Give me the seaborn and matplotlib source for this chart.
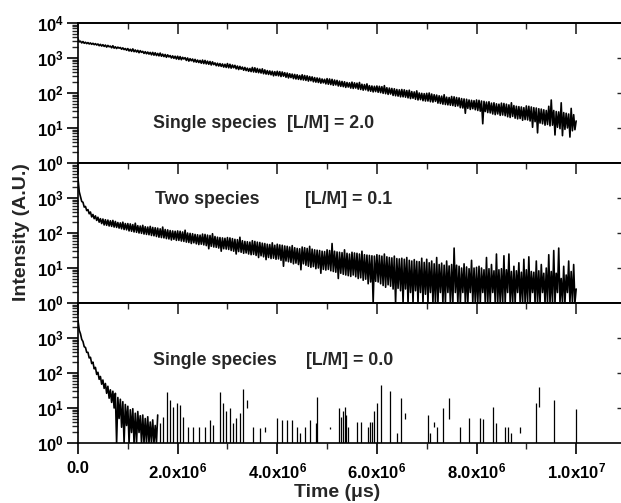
import numpy as np
import matplotlib
matplotlib.use('Agg')
import matplotlib.pyplot as plt
import seaborn as sns
from matplotlib.ticker import MultipleLocator, LogLocator, NullLocator, NullFormatter, FuncFormatter, FixedLocator

# channel width of the decay traces (us)
dt_chan = 2.5e4

# log10(intensity), in channel order (20 channels per row = 0.5e6 us)
top_log = [
    3.55, 3.46, 3.48, 3.43, 3.47, 3.42, 3.45, 3.41, 3.44, 3.40, 3.43, 3.39, 3.42, 3.38, 3.41, 3.37, 3.40, 3.35, 3.39, 3.34,
    3.38, 3.33, 3.37, 3.31, 3.36, 3.32, 3.34, 3.29, 3.35, 3.28, 3.32, 3.27, 3.31, 3.28, 3.30, 3.25, 3.29, 3.24, 3.27, 3.22,
    3.27, 3.20, 3.25, 3.19, 3.26, 3.18, 3.23, 3.17, 3.22, 3.15, 3.21, 3.16, 3.19, 3.13, 3.18, 3.12, 3.17, 3.11, 3.16, 3.09,
    3.16, 3.08, 3.15, 3.07, 3.13, 3.06, 3.14, 3.05, 3.11, 3.04, 3.10, 3.02, 3.09, 3.03, 3.07, 3.00, 3.06, 2.99, 3.05, 2.97,
    3.05, 2.96, 3.04, 2.95, 3.02, 2.97, 3.01, 2.93, 3.00, 2.91, 2.98, 2.92, 2.97, 2.89, 2.96, 2.88, 2.94, 2.87, 2.93, 2.85,
    2.94, 2.84, 2.93, 2.83, 2.91, 2.82, 2.90, 2.80, 2.89, 2.81, 2.86, 2.78, 2.85, 2.77, 2.84, 2.76, 2.83, 2.74, 2.82, 2.73,
    2.84, 2.72, 2.82, 2.71, 2.80, 2.72, 2.79, 2.69, 2.77, 2.67, 2.76, 2.68, 2.74, 2.65, 2.73, 2.64, 2.71, 2.62, 2.70, 2.61,
    2.73, 2.60, 2.72, 2.59, 2.70, 2.58, 2.68, 2.57, 2.69, 2.55, 2.66, 2.54, 2.64, 2.53, 2.63, 2.52, 2.62, 2.49, 2.61, 2.50,
    2.62, 2.49, 2.61, 2.47, 2.60, 2.48, 2.58, 2.45, 2.57, 2.43, 2.55, 2.44, 2.54, 2.41, 2.53, 2.40, 2.52, 2.39, 2.50, 2.38,
    2.52, 2.37, 2.50, 2.36, 2.49, 2.34, 2.47, 2.35, 2.46, 2.32, 2.44, 2.31, 2.43, 2.30, 2.42, 2.28, 2.40, 2.29, 2.39, 2.26,
    2.41, 2.25, 2.40, 2.24, 2.39, 2.22, 2.37, 2.23, 2.36, 2.20, 2.34, 2.19, 2.33, 2.18, 2.32, 2.16, 2.30, 2.17, 2.29, 2.14,
    2.31, 2.13, 2.29, 2.14, 2.28, 2.11, 2.30, 2.10, 2.25, 2.08, 2.24, 2.09, 2.26, 2.06, 2.21, 2.05, 2.20, 2.03, 2.19, 2.04,
    2.20, 2.02, 2.19, 2.01, 2.18, 1.99, 2.21, 1.98, 2.15, 1.96, 2.14, 1.97, 2.13, 1.93, 2.12, 1.92, 2.10, 1.91, 2.09, 1.89,
    2.10, 1.89, 2.09, 1.88, 2.07, 1.86, 2.08, 1.84, 2.04, 1.85, 2.03, 1.82, 2.06, 1.80, 2.00, 1.81, 1.99, 1.78, 1.98, 1.77,
    1.99, 1.77, 2.00, 1.75, 1.97, 1.74, 1.95, 1.76, 1.94, 1.71, 1.92, 1.70, 1.91, 1.68, 1.95, 1.67, 1.88, 1.66, 1.87, 1.65,
    1.90, 1.64, 1.89, 1.62, 1.87, 1.63, 1.86, 1.58, 1.84, 1.57, 1.83, 1.42, 1.82, 1.56, 1.80, 1.53, 1.79, 1.55, 1.78, 1.52,
    1.80, 1.50, 1.79, 1.48, 1.77, 1.12, 1.76, 1.47, 1.74, 1.44, 1.75, 1.43, 1.71, 1.40, 1.72, 1.38, 1.69, 1.40, 1.68, 1.36,
    1.71, 1.37, 1.70, 1.35, 1.68, 1.32, 1.66, 1.30, 1.72, 1.33, 1.64, 1.28, 1.62, 1.26, 1.61, 1.27, 1.60, 1.22, 1.58, 1.24,
    1.63, 1.23, 1.62, 1.20, 1.60, 1.02, 1.58, 1.18, 1.57, 0.86, 1.55, 1.14, 1.54, 1.12, 1.52, 1.08, 1.50, 1.10, 1.62, 1.06,
    1.80, 1.08, 1.50, 0.80, 1.47, 1.02, 1.46, 0.98, 1.72, 0.78, 1.44, 0.96, 1.42, 1.00, 1.40, 0.74, 1.56, 0.92, 1.38, 0.95,
    1.20,
]

mid_log = [
    3.55, 3.18, 3.04, 2.90, 2.88, 2.74, 2.76, 2.64, 2.67, 2.55, 2.60, 2.46, 2.53, 2.41, 2.49, 2.36, 2.45, 2.31, 2.41, 2.27,
    2.40, 2.23, 2.38, 2.22, 2.37, 2.20, 2.35, 2.19, 2.36, 2.17, 2.33, 2.16, 2.30, 2.14, 2.29, 2.12, 2.31, 2.10, 2.27, 2.09,
    2.27, 2.06, 2.26, 2.05, 2.24, 2.03, 2.28, 2.02, 2.21, 2.00, 2.20, 1.99, 2.22, 1.97, 2.18, 1.96, 2.17, 1.95, 2.19, 1.93,
    2.16, 1.92, 2.15, 1.90, 2.14, 1.88, 2.12, 1.87, 2.17, 1.86, 2.10, 1.84, 2.09, 1.83, 2.07, 1.80, 2.06, 1.82, 2.05, 1.79,
    2.06, 1.79, 2.05, 1.77, 2.03, 1.76, 2.08, 1.74, 2.00, 1.73, 1.99, 1.70, 1.98, 1.72, 1.96, 1.69, 1.95, 1.67, 1.94, 1.68,
    1.97, 1.66, 1.96, 1.64, 1.94, 1.55, 1.93, 1.62, 1.98, 1.60, 1.90, 1.59, 1.88, 1.57, 1.87, 1.48, 1.86, 1.55, 1.85, 1.54,
    1.87, 1.53, 1.86, 1.50, 1.84, 1.48, 1.82, 1.40, 1.81, 1.47, 1.88, 1.45, 1.78, 1.42, 1.76, 1.43, 1.75, 1.40, 1.74, 1.38,
    1.78, 1.39, 1.76, 1.36, 1.74, 1.30, 1.73, 1.35, 1.71, 1.32, 1.70, 1.24, 1.68, 1.30, 1.67, 1.27, 1.72, 1.28, 1.65, 1.25,
    1.68, 1.26, 1.66, 1.22, 1.65, 1.05, 1.63, 1.20, 1.62, 1.18, 1.60, 1.16, 1.64, 1.12, 1.58, 1.14, 1.56, 1.10, 1.55, 0.95,
    1.60, 1.12, 1.58, 1.08, 1.56, 1.05, 1.62, 1.02, 1.54, 1.04, 1.52, 0.98, 1.51, 1.00, 1.50, 0.85, 1.48, 0.96, 1.47, 0.94,
    1.52, 0.96, 1.50, 0.92, 1.70, 0.90, 1.48, 0.88, 1.46, 0.70, 1.45, 0.85, 1.44, 0.82, 1.52, 0.80, 1.42, 0.78, 1.40, 0.76,
    1.45, 0.80, 1.43, 0.75, 1.42, 0.70, 1.40, 0.72, 1.48, 0.65, 1.38, 0.68, 1.37, 0.55, 1.36, 0.60, 1.35, 0.00, 1.34, 0.62,
    1.38, 0.60, 1.36, 0.55, 1.34, 0.50, 1.40, 0.45, 1.32, 0.52, 1.30, 0.48, 1.29, 0.40, 1.34, 0.00, 1.27, 0.42, 1.26, 0.35,
    1.28, 0.00, 1.25, 0.40, 1.30, 0.00, 1.22, 0.30, 1.20, 0.00, 1.24, 0.35, 1.19, 0.00, 1.18, 0.30, 1.28, 0.00, 1.16, 0.25,
    1.25, 0.00, 1.15, 0.30, 1.20, 0.00, 1.12, 0.00, 1.30, 0.00, 1.10, 0.30, 1.14, 0.00, 1.08, 0.00, 1.20, 0.30, 1.06, 0.00,
    1.10, 0.00, 1.57, 0.30, 1.08, 0.00, 1.05, 0.00, 1.00, 0.30, 1.12, 0.00, 1.03, 0.00, 0.98, 0.30, 1.22, 0.00, 1.00, 0.00,
    1.02, 0.00, 1.05, 0.00, 1.00, 0.30, 0.95, 0.00, 1.30, 0.00, 0.98, 0.00, 1.10, 0.30, 0.92, 0.00, 1.40, 0.00, 0.95, 0.00,
    0.98, 0.00, 1.35, 0.00, 0.95, 0.30, 1.40, 0.00, 0.90, 0.00, 1.05, 0.00, 0.92, 0.30, 1.15, 0.00, 0.88, 0.00, 1.25, 0.00,
    0.95, 0.00, 1.32, 0.00, 0.90, 0.30, 0.88, 0.00, 1.20, 0.00, 0.92, 0.00, 1.10, 0.30, 0.85, 0.00, 1.00, 0.00, 1.38, 0.00,
    0.90, 0.00, 1.50, 0.00, 0.85, 0.30, 1.57, 0.00, 0.70, 0.00, 1.05, 0.00, 0.80, 0.30, 1.20, 0.00, 0.90, 0.00, 1.10, 0.00,
    0.40,
]

bot_log = [
    3.50, 3.22, 3.12, 2.96, 2.90, 2.75, 2.73, 2.59, 2.59, 2.43,
    2.45, 2.27, 2.31, 2.12, 2.16, 1.96, 2.02, 1.82, 1.90, 1.68,
    1.80, 1.56, 1.70, 1.42, 1.62, 1.28, 1.52, 1.16, 1.48, 1.00,
    1.42, 0.00, 1.30, 0.70, 1.25, 0.45, 1.18, 0.00, 1.10, 0.50,
    1.05, 0.00, 0.95, 0.30, 0.98, 0.00, 0.85, 0.00, 0.90, 0.30,
    0.78, 0.00, 0.80, 0.00, 0.70, 0.00, 0.75, 0.00, 0.60, 0.00,
    0.66, 0.00, 0.50, 0.00, 0.80,
]

# isolated counts after the fast decay: time (1e6 us), top and base of each spike (log10)
spike_t = [1.65, 1.71, 1.78, 1.85, 1.91, 1.98, 2.05, 2.11, 2.21, 2.31,
           2.42, 2.55, 2.65, 2.72, 2.85, 2.92, 2.98, 3.05, 3.12, 3.18,
           3.25, 3.31, 3.39, 3.52, 3.65, 3.75, 3.99, 4.09, 4.19, 4.29,
           4.39, 4.46, 4.56, 4.66, 4.78, 4.79, 5.06, 5.23, 5.27, 5.31,
           5.35, 5.38, 5.42, 5.60, 5.68, 5.82, 5.86, 5.90, 5.94, 6.01,
           6.08, 6.27, 6.40, 6.49, 6.57, 7.03, 7.07, 7.14, 7.20, 7.32,
           7.45, 7.67, 7.85, 8.06, 8.13, 8.34, 8.39, 8.57, 8.64, 8.69,
           8.88, 9.19, 9.25, 9.55, 9.99]
spike_top = [0.56, 0.75, 1.47, 1.23, 1.04, 1.13, 1.09, 0.75, 0.47, 0.47,
             0.47, 0.47, 0.66, 0.52, 1.47, 1.13, 0.90, 0.99, 0.56, 0.71,
             0.85, 1.53, 1.23, 0.47, 0.42, 0.47, 0.71, 0.66, 0.66, 0.66,
             0.47, 0.28, 0.47, 0.66, 0.56, 1.32, 0.47, 0.99, 0.75, 0.90,
             1.04, 0.80, 0.47, 0.61, 0.61, 0.47, 0.61, 0.61, 0.90, 1.13,
             1.66, 1.49, 0.28, 1.28, 0.85, 0.80, 0.28, 0.61, 0.47, 0.99,
             1.28, 0.47, 0.71, 0.71, 0.68, 1.04, 0.56, 0.47, 0.47, 0.28,
             0.47, 1.13, 1.61, 1.23, 0.96]
spike_base = [0.0, 0.0, 0.0, 0.0, 0.0, 0.0, 0.0, 0.0, 0.0, 0.0,
              0.0, 0.0, 0.0, 0.0, 0.0, 0.0, 0.0, 0.0, 0.0, 0.0,
              0.0, 0.0, 0.99, 0.0, 0.0, 0.30, 0.0, 0.0, 0.0, 0.0,
              0.0, 0.0, 0.0, 0.0, 0.0, 0.0, 0.40, 0.0, 0.0, 0.0,
              0.0, 0.0, 0.0, 0.0, 0.0, 0.0, 0.0, 0.0, 0.0, 0.0,
              0.0, 0.0, 0.0, 0.0, 0.68, 0.0, 0.0, 0.45, 0.0, 0.0,
              0.68, 0.0, 0.0, 0.0, 0.0, 0.0, 0.0, 0.0, 0.0, 0.0,
              0.28, 0.0, 1.04, 0.0, 0.0]

panel_species = ['Single species', 'Two species', 'Single species']
panel_ratio = ['[L/M] = 2.0', '[L/M] = 0.1', '[L/M] = 0.0']

sns.set_theme(style='ticks')
plt.rcParams.update({
    'font.family': ['Liberation Sans', 'DejaVu Sans'],
    'font.weight': 'bold',
    'font.size': 12,
    'mathtext.fontset': 'custom',
    'mathtext.rm': 'Liberation Sans:bold',
    'mathtext.it': 'Liberation Sans:bold',
    'mathtext.bf': 'Liberation Sans:bold',
    'mathtext.sf': 'Liberation Sans:bold',
    'mathtext.default': 'rm',
    'axes.linewidth': 1.2,
    'axes.edgecolor': 'black',
})

fig = plt.figure(figsize=(6.21, 5.03), dpi=100)
bottoms = [0.676, 0.3976, 0.1193]
axes = [fig.add_axes([0.1256, b, 0.8776, 0.2783]) for b in bottoms]

traces = [top_log, mid_log, bot_log]
text_y = [0.25, 0.707, 0.557]
text_x1 = [0.137, 0.141, 0.138]
text_x2 = [0.384, 0.4165, 0.418]


def xfmt(v, pos):
    if abs(v) < 1:
        return '0.0'
    e = int(np.floor(np.log10(abs(v))))
    return r'$%.1f\mathrm{x}10^{%d}$' % (v / 10 ** e, e)


def yfmt(v, pos):
    return r'$10^{%d}$' % int(round(np.log10(v)))


for i, ax in enumerate(axes):
    vals = traces[i]
    t = np.arange(len(vals)) * dt_chan
    inten = 10 ** np.array(vals)
    ax.set_yscale('log')
    sns.lineplot(x=t, y=inten, ax=ax, color='black', linewidth=1.2,
                 estimator=None, sort=False)
    if i == 2:
        ax.vlines(np.array(spike_t) * 1e6, 10 ** np.array(spike_base),
                  10 ** np.array(spike_top), color='black', linewidth=0.9)
    ax.set_xlim(0, 10.94e6)
    ax.set_ylim(1, 1e4)
    ax.set_xlabel('')
    ax.set_ylabel('')

    ax.xaxis.set_major_locator(MultipleLocator(2e6))
    ax.xaxis.set_minor_locator(MultipleLocator(1e6))
    if i == 0:
        ax.yaxis.set_major_locator(FixedLocator([1, 10, 100, 1000, 10000]))
    else:
        ax.yaxis.set_major_locator(FixedLocator([1, 10, 100, 1000]))
    ax.yaxis.set_minor_locator(LogLocator(base=10, subs=np.arange(2, 10), numticks=20))
    ax.yaxis.set_minor_formatter(NullFormatter())
    ax.yaxis.set_major_formatter(FuncFormatter(yfmt))
    if i == 2:
        ax.xaxis.set_major_formatter(FuncFormatter(xfmt))
    else:
        ax.xaxis.set_major_formatter(NullFormatter())

    ax.tick_params(axis='both', which='major', direction='out', length=8, width=1.2,
                   labelsize=12, pad=2, colors='black')
    ax.tick_params(axis='both', which='minor', direction='out', length=4.5, width=1.0)
    ax.tick_params(axis='x', which='major', pad=5)
    ax.tick_params(top=False, right=False)

    sec_x = ax.secondary_xaxis('top')
    sec_x.xaxis.set_major_locator(MultipleLocator(2e6))
    sec_x.xaxis.set_minor_locator(MultipleLocator(1e6))
    sec_x.xaxis.set_major_formatter(NullFormatter())
    sec_x.tick_params(which='major', direction='in', length=8, width=1.2)
    sec_x.tick_params(which='minor', direction='in', length=4.5, width=1.0)

    sec_y = ax.secondary_yaxis('right')
    sec_y.yaxis.set_major_locator(FixedLocator([10, 100, 1000]))
    sec_y.yaxis.set_minor_locator(NullLocator())
    sec_y.yaxis.set_major_formatter(NullFormatter())
    sec_y.tick_params(which='major', direction='in', length=4.5, width=1.0)

    for sp in ax.spines.values():
        sp.set_linewidth(1.2)
        sp.set_color('black')

    ax.text(text_x1[i], text_y[i], panel_species[i], transform=ax.transAxes,
            fontsize=12.8, fontweight='bold', va='baseline', ha='left')
    ax.text(text_x2[i], text_y[i], panel_ratio[i], transform=ax.transAxes,
            fontsize=12.8, fontweight='bold', va='baseline', ha='left')

fig.text(0.035, 0.539, 'Intensity (A.U.)', rotation=90, fontsize=14,
         fontweight='bold', ha='center', va='center')
fig.text(0.5435, 0.02, 'Time (\u03bcs)', fontsize=14, fontweight='bold',
         ha='center', va='center')

fig.savefig('out.png', dpi=100)
